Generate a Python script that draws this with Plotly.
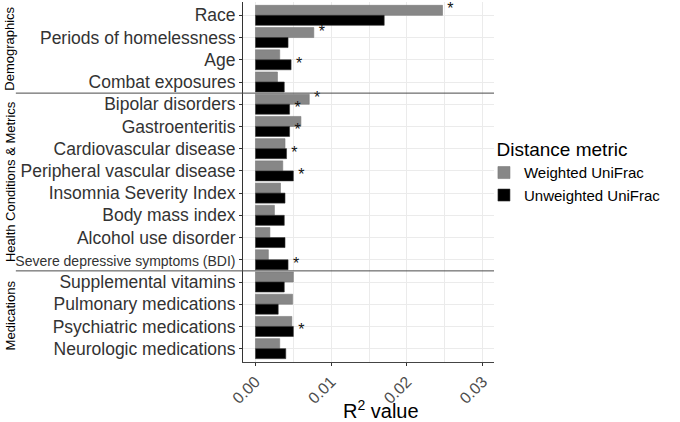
import plotly.graph_objects as go

categories = [
    "Race", "Periods of homelessness", "Age", "Combat exposures",
    "Bipolar disorders", "Gastroenteritis", "Cardiovascular disease",
    "Peripheral vascular disease", "Insomnia Severity Index", "Body mass index",
    "Alcohol use disorder", "Severe depressive symptoms (BDI)",
    "Supplemental vitamins", "Pulmonary medications", "Psychiatric medications",
    "Neurologic medications",
]
weighted = [0.0247, 0.0077, 0.0032, 0.0029, 0.0071, 0.0060, 0.0039, 0.0036,
            0.0033, 0.0025, 0.0019, 0.0017, 0.0050, 0.0049, 0.0048, 0.0032]
unweighted = [0.0170, 0.0043, 0.0047, 0.0038, 0.0045, 0.0045, 0.0041, 0.0050,
              0.0039, 0.0038, 0.0039, 0.0043, 0.0038, 0.0030, 0.0050, 0.0040]
sig_weighted = [1, 1, 0, 0, 1, 0, 0, 0, 0, 0, 0, 0, 0, 0, 0, 0]
sig_unweighted = [0, 0, 1, 0, 1, 1, 1, 1, 0, 0, 0, 1, 0, 0, 1, 0]
groups = ["Demographics", "Health Conditions & Metrics", "Medications"]
group_sizes = [4, 8, 4]
x_ticks = [0.0, 0.01, 0.02, 0.03]
x_tick_labels = ["0.00", "0.01", "0.02", "0.03"]

GRAY = "#878787"
BLACK = "#000000"
FONT = "Liberation Sans, Arial, sans-serif"

pos = list(range(len(categories)))
tick_text = [
    ('<span style="font-size:14px">%s</span>' % c) if "BDI" in c else c
    for c in categories
]

fig = go.Figure()
fig.add_trace(go.Bar(
    x=weighted, y=pos, orientation="h", width=0.45, offset=-0.45,
    marker=dict(color=GRAY, line=dict(color="#7a7a7a", width=0.6)),
    name="Weighted UniFrac",
))
fig.add_trace(go.Bar(
    x=unweighted, y=pos, orientation="h", width=0.45, offset=0.0,
    marker=dict(color=BLACK, line=dict(color="#333333", width=0.6)),
    name="Unweighted UniFrac",
))

STAR_DX = 0.00105
sw_x = [v + STAR_DX for v, s in zip(weighted, sig_weighted) if s]
sw_y = [p - 0.225 for p, s in zip(pos, sig_weighted) if s]
su_x = [v + STAR_DX for v, s in zip(unweighted, sig_unweighted) if s]
su_y = [p + 0.225 for p, s in zip(pos, sig_unweighted) if s]
fig.add_trace(go.Scatter(
    x=sw_x + su_x, y=sw_y + su_y, mode="text", text=["*"] * (len(sw_x) + len(su_x)),
    textposition="middle center", textfont=dict(size=16, color="#111111", family=FONT),
    showlegend=False, hoverinfo="skip",
))

# group separators and labels
shapes = []
annotations = []
start = 0
for g, n in zip(groups, group_sizes):
    end = start + n
    annotations.append(dict(
        x=-0.928, xref="paper", y=(start + end - 1) / 2, yref="y",
        text=g, textangle=-90, showarrow=False,
        font=dict(size=13, color="#000000", family=FONT),
        xanchor="center", yanchor="middle",
    ))
    if end < len(categories):
        shapes.append(dict(
            type="line", xref="paper", yref="y",
            x0=-0.905, x1=1.0, y0=end - 0.5, y1=end - 0.5,
            line=dict(color="#4a4a4a", width=1),
        ))
    start = end

# x-axis title
annotations.append(dict(
    x=0.55, xref="paper", y=-0.133, yref="paper",
    text="R<sup>2</sup> value", showarrow=False,
    font=dict(size=20, color="#000000", family=FONT),
    xanchor="center", yanchor="middle",
))

fig.update_layout(
    width=680, height=422,
    margin=dict(l=243, r=186, t=2, b=60, autoexpand=False),
    paper_bgcolor="white", plot_bgcolor="white",
    font=dict(family=FONT, color="#000000"),
    barmode="overlay",
    shapes=shapes, annotations=annotations,
    legend=dict(
        title=dict(text="&nbsp;&nbsp;Distance metric", font=dict(size=19, color="#000000")),
        font=dict(size=15, color="#000000"),
        x=0.96, xanchor="left", y=0.64, yanchor="top",
        itemwidth=30,
        traceorder="normal", bgcolor="rgba(0,0,0,0)",
    ),
    xaxis=dict(
        range=[-0.00165, 0.0315],
        tickvals=x_ticks, ticktext=x_tick_labels,
        tickangle=-45, tickfont=dict(size=16, color="#4d4d4d"),
        ticks="outside", ticklen=3, tickcolor="#333333",
        showgrid=True, gridcolor="#ebebeb", gridwidth=1,
        minor=dict(dtick=0.005, tick0=0.005, showgrid=True, gridcolor="#ebebeb", gridwidth=1),
        showline=True, linecolor="#444444", linewidth=1,
        zeroline=False, automargin=False,
    ),
    yaxis=dict(
        range=[15.6, -0.6],
        tickvals=pos, ticktext=tick_text,
        tickfont=dict(size=17.5, color="#333333"),
        ticks="outside", ticklen=3, tickcolor="#333333", ticklabelstandoff=0,
        showgrid=True, gridcolor="#ebebeb", gridwidth=1,
        showline=True, linecolor="#333333", linewidth=1,
        zeroline=False, automargin=False,
    ),
)

fig.write_html("out.html", config={"displayModeBar": False},
               post_script="document.body.style.margin='0';")
